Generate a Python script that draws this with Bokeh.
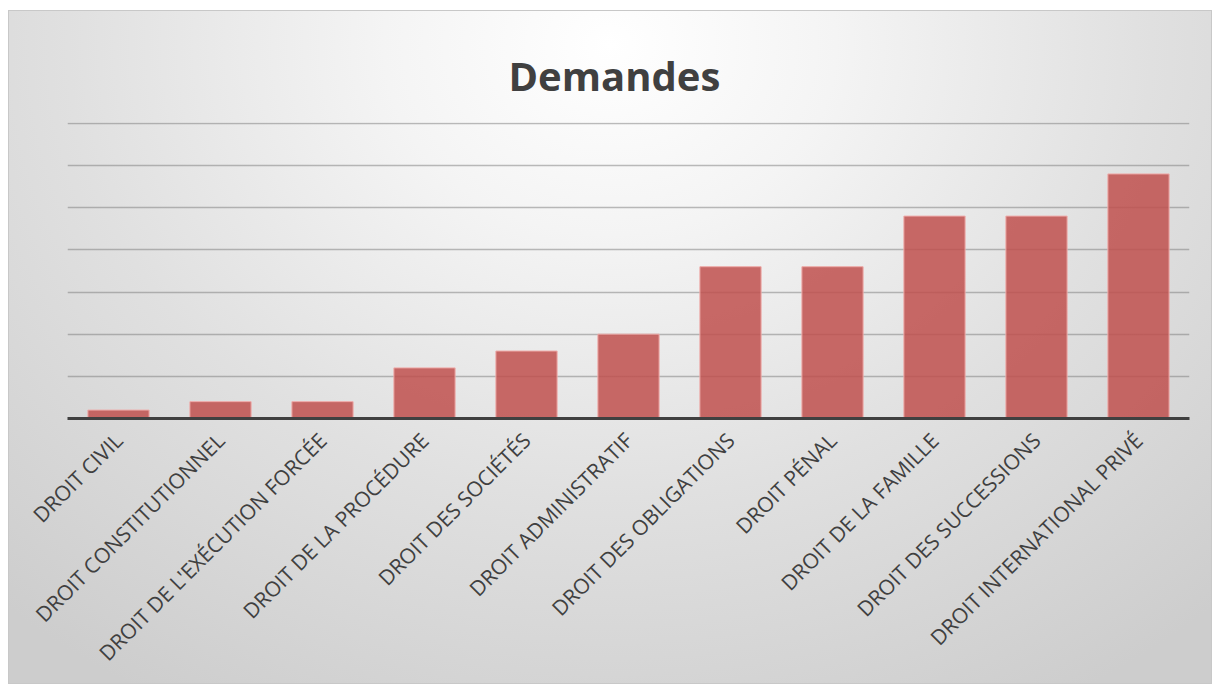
import math
from bokeh.plotting import figure
from bokeh.models import FactorRange, Range1d, SingleIntervalTicker
from bokeh.embed import file_html
from bokeh.resources import INLINE

categories = [
    "DROIT CIVIL",
    "DROIT CONSTITUTIONNEL",
    "DROIT DE L'EXÉCUTION FORCÉE",
    "DROIT DE LA PROCÉDURE",
    "DROIT DES SOCIÉTÉS",
    "DROIT ADMINISTRATIF",
    "DROIT DES OBLIGATIONS",
    "DROIT PÉNAL",
    "DROIT DE LA FAMILLE",
    "DROIT DES SUCCESSIONS",
    "DROIT INTERNATIONAL PRIVÉ",
]
values = [1, 2, 2, 6, 8, 10, 18, 18, 24, 24, 29]
y_max = 35
grid_step = 5

p = figure(
    x_range=FactorRange(*categories),
    y_range=Range1d(0, y_max + 0.1),
    width=1204, height=687,
    output_backend="svg", toolbar_location=None,
    min_border_left=59, min_border_right=23,
    min_border_top=125, min_border_bottom=266,
    title="Demandes",
)
line = "linear-gradient(#c8c8c8, #c8c8c8)"
p.styles = {
    "margin-left": "8px",
    "margin-top": "-3px",
    "background": (
        f"{line} 0 13px / 100% 1px no-repeat, "
        f"{line} 0 13px / 1px 100% no-repeat, "
        f"{line} 100% 13px / 1px 100% no-repeat, "
        f"{line} 0 100% / 100% 1px no-repeat, "
        "linear-gradient(#ffffff, #ffffff) 0 0 / 100% 13px no-repeat, "
        "radial-gradient(ellipse 75% 110% at 50% 7%, #ffffff 0%, #f4f4f4 25%, #e0e0e0 60%, #cdcdcd 100%)"
    ),
}
p.border_fill_alpha = 0
p.background_fill_alpha = 0
p.outline_line_color = None

p.title.align = "left"
p.title.text_font = "Open Sans"
p.title.text_font_style = "bold"
p.title.text_font_size = "40px"
p.title.text_color = "#404040"
p.title.offset = 441
p.title.standoff = 40

p.vbar(x=categories, top=values, width=0.6,
       fill_color="#c0504d", fill_alpha=0.85,
       line_color="#eeaaa8", line_width=1)

p.yaxis.visible = False
p.yaxis.ticker = SingleIntervalTicker(interval=grid_step)
p.ygrid.ticker = SingleIntervalTicker(interval=grid_step)
p.ygrid.grid_line_color = "#7a7a7a"
p.ygrid.grid_line_alpha = 0.5
p.ygrid.grid_line_width = 1.5
p.xgrid.visible = False

p.xaxis.axis_line_color = "#404040"
p.xaxis.axis_line_width = 3
p.xaxis.major_tick_line_color = None
p.xaxis.minor_tick_line_color = None
p.xaxis.major_label_orientation = math.pi / 4
p.xaxis.major_label_text_font = "Open Sans"
p.xaxis.major_label_text_font_size = "21px"
p.xaxis.major_label_text_color = "#404040"
p.xaxis.major_label_standoff = 12

open("out.html", "w").write(file_html(p, INLINE))
